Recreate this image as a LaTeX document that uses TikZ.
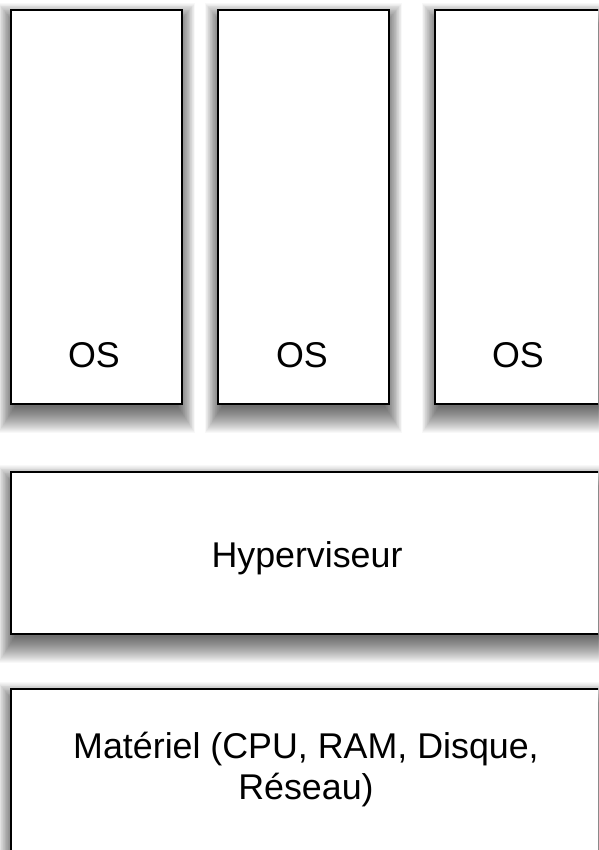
\documentclass[tikz,border=0pt]{standalone}
\usepackage{fontspec}
\setmainfont{Liberation Sans}
\usetikzlibrary{backgrounds}
\begin{document}
\begin{tikzpicture}[x=1pt,y=-1pt,
  box/.style={draw=black, line width=2.6pt, fill=white, rectangle, inner sep=0pt},
  shadowlayer/.style={fill=black, fill opacity=0.026, draw=none},
  lbl/.style={font=\fontsize{35.8}{41}\selectfont, inner sep=0pt, align=center}]
\useasboundingbox (0,0) rectangle (598,850);
\clip (0,0) rectangle (598,850);
\node[box, minimum width=171pt, minimum height=394pt] (os1) at (96.5,207) {};
\node[box, minimum width=171pt, minimum height=394pt] (os2) at (303.5,207) {};
\node[box, minimum width=171pt, minimum height=394pt] (os3) at (520.5,207) {};
\node[lbl, anchor=base] (t1) at (94,367) {OS};
\node[lbl, anchor=base] (t2) at (302,367) {OS};
\node[lbl, anchor=base] (t3) at (518,367) {OS};
\node[box, minimum width=620pt, minimum height=162pt] (hyp) at (321,553) {};
\node[lbl, anchor=base] (th) at (307,567) {Hyperviseur};
\node[box, minimum width=620pt, minimum height=200pt] (hw) at (321,789) {};
\node[lbl] (tw) at (306,770) {Matériel (CPU, RAM, Disque,\\Réseau)};
\begin{pgfonlayer}{background}
\fill[white] (0,0) rectangle (598,850);
\foreach \n in {os1,os2,os3,hyp,hw}{
  \foreach \r in {-8,-7,...,18}{
    \fill[shadowlayer] ([shift={(-0.65*\r,9-0.8*\r)}]\n.north west) rectangle ([shift={(0.65*\r,10+\r)}]\n.south east);
  }
}
\end{pgfonlayer}
\end{tikzpicture}
\end{document}
